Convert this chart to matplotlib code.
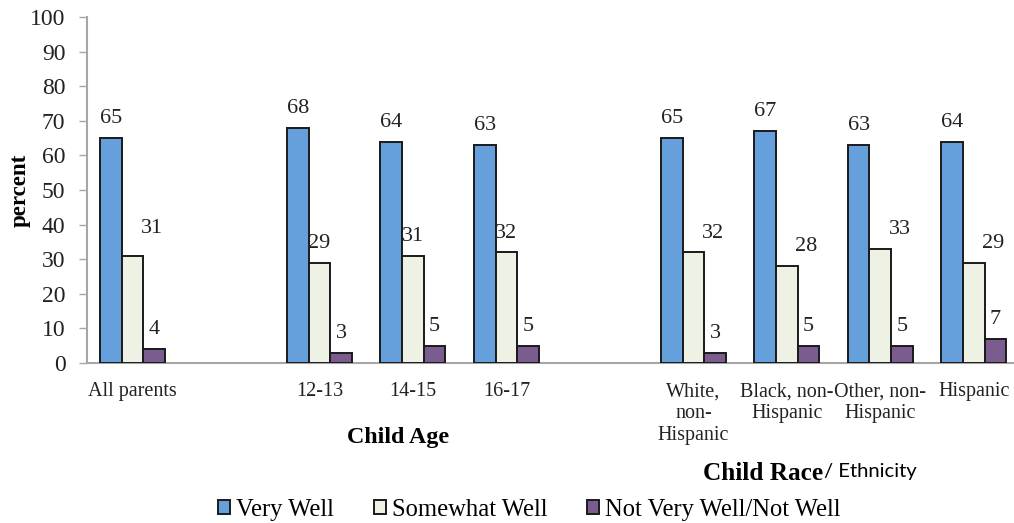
import numpy as np
import matplotlib.pyplot as plt

# survey results, percent of parents
age_groups = ["12-13", "14-15", "16-17"]
race_groups = ["White,\nnon-\nHispanic", "Black, non-\nHispanic", "Other, non-\nHispanic", "Hispanic"]
categories = ["All parents"] + age_groups + race_groups

very_well = [65, 68, 64, 63, 65, 67, 63, 64]
somewhat_well = [31, 29, 31, 32, 32, 28, 33, 29]
not_well = [4, 3, 5, 5, 3, 5, 5, 7]

series_names = ["Very Well", "Somewhat Well", "Not Very Well/Not Well"]
colors = ["#659FDC", "#EEF2E4", "#7A5C8E"]

serif = "Liberation Serif"

# one empty slot between the three groups
slots = np.array([0, 2, 3, 4, 6, 7, 8, 9], dtype=float)
w = 0.232

fig = plt.figure(figsize=(10.14, 5.23), dpi=100)
ax = fig.add_axes([0.0858, 0.3059, 0.9142, 0.6616])

series = [very_well, somewhat_well, not_well]
for k, (vals, name, c) in enumerate(zip(series, series_names, colors)):
    xs = slots + (k - 1) * w
    ax.bar(xs, vals, width=w, color=c, edgecolor="#1a1a1a", linewidth=1.4,
           label=name, zorder=3)
    for x, v, cat in zip(xs, vals, categories):
        dx, dy = 0, 7
        if k == 1 and cat not in age_groups:
            dx = 14
        if k == 1 and cat == "All parents":
            dy = 13
        ax.annotate(str(v), (x, v), xytext=(dx, dy), textcoords="offset points",
                    ha="center", va="bottom", fontsize=16, family=serif,
                    color="#222222")

ax.set_ylim(0, 100)
ax.set_xlim(-0.487, 9.43)
ax.set_yticks(range(0, 101, 10))
ax.set_xticks(slots)
ax.set_xticklabels(categories, fontsize=14.5, family=serif, color="#222222",
                   linespacing=1.2)
for lab in ax.get_yticklabels():
    lab.set_fontsize(17)
    lab.set_family(serif)
    lab.set_color("#222222")

ax.tick_params(axis="x", length=0, pad=14)
ax.tick_params(axis="y", length=5.5, width=1, color="#A6A6A6", pad=10)
for s in ["top", "right"]:
    ax.spines[s].set_visible(False)
for s in ["left", "bottom"]:
    ax.spines[s].set_color("#A6A6A6")
    ax.spines[s].set_linewidth(1.5)

fig.text(20 / 1014, 1 - 190 / 523, "percent", rotation=90, ha="center",
         va="center", fontsize=16.5, fontweight="bold", family=serif)
fig.text(398 / 1014, 1 - 437 / 523, "Child Age", ha="center", va="center",
         fontsize=17.3, fontweight="bold", family=serif)
fig.text(823 / 1014, 1 - 473 / 523, "Child Race", ha="right", va="center",
         fontsize=18.2, fontweight="bold", family=serif)
fig.text(824 / 1014, 1 - 472 / 523, "/ Ethnicity", ha="left", va="center",
         fontsize=14.6, family="Lato")

fig.legend(loc="center", bbox_to_anchor=(0.522, 0.025), ncol=3, frameon=False,
           prop={"family": serif, "size": 17.7}, handlelength=0.5,
           handleheight=0.5, handletextpad=0.25, columnspacing=1.6,
           borderaxespad=0)

fig.savefig("out.png", dpi=100)
